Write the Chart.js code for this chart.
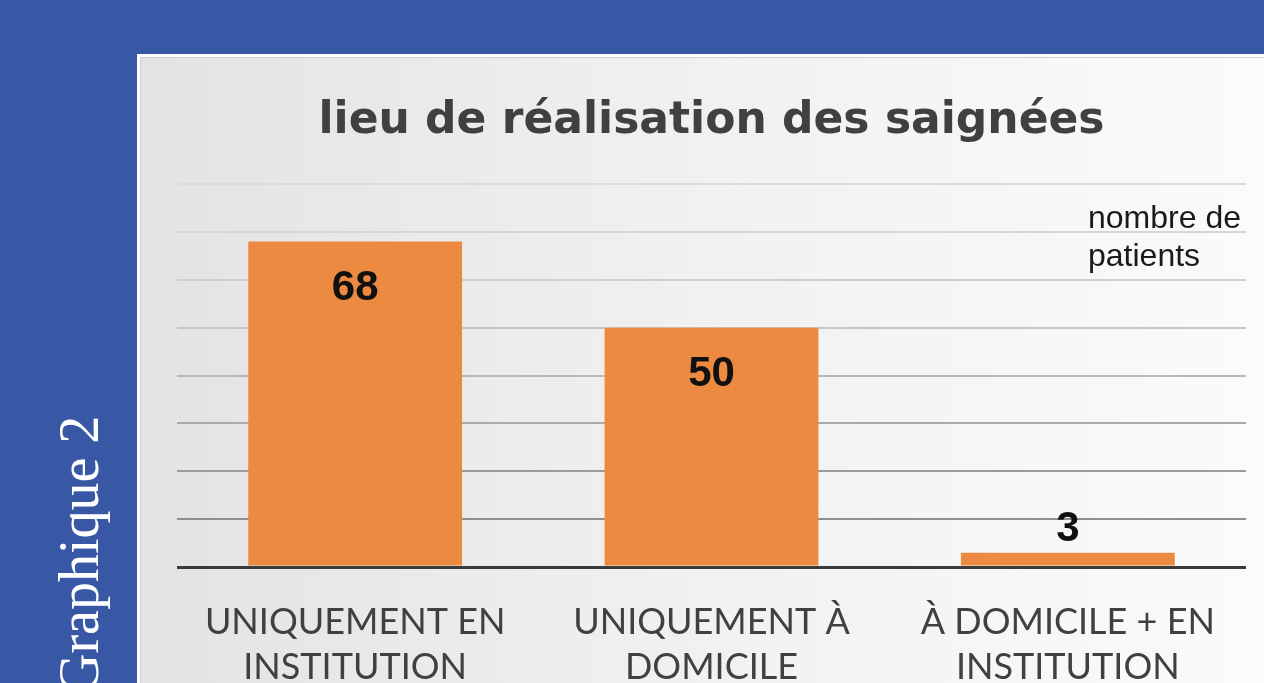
<!DOCTYPE html>
<html>
<head>
<meta charset="utf-8">
<script src="https://cdn.jsdelivr.net/npm/chart.js@4"></script>
<style>
  html, body { margin: 0; padding: 0; }
  body { width: 1264px; height: 683px; background: #3858a5; position: relative; overflow: hidden; }
  #panel {
    position: absolute; left: 137px; top: 54px; width: 1140px; height: 640px;
    box-sizing: border-box; border: 3px solid #ffffff;
    box-shadow: inset 0 0 0 1px #cfcfcf;
    background: linear-gradient(to right, #e3e3e3 0%, #f1f1f1 50%, #fbfbfb 100%);
  }
  #wrap { position: absolute; left: 138px; top: 55px; width: 1126px; height: 628px; }
  #side {
    position: absolute; left: 51px; top: 694px;
    transform-origin: 0 0; transform: rotate(-90deg);
    font-family: "Liberation Serif", "DejaVu Serif", serif; font-size: 56px; line-height: 1;
    color: #ffffff; white-space: nowrap;
  }
</style>
</head>
<body>
<div id="panel"></div>
<div id="side">Graphique 2</div>
<div id="wrap"><canvas id="saigneesChart" width="1126" height="628"></canvas></div>
<script>
// Donnees
var categories = [['UNIQUEMENT EN', 'INSTITUTION'], ['UNIQUEMENT À', 'DOMICILE'], ['À DOMICILE + EN', 'INSTITUTION']];
var patients = [68, 50, 3];
var yTicks = [0, 10, 20, 30, 40, 50, 60, 70, 80];
var titleText = 'lieu de réalisation des saignées';
var unitLabel = ['nombre de', 'patients'];

// couleur des lignes de grille : claires en haut, plus foncees en bas
var gridColors = ['#3a3a3a', '#8f8f8f', '#9c9c9c', '#aaaaaa', '#b8b8b8', '#c6c6c6', '#cfcfcf', '#d6d6d6', '#dcdcdc'];

// etiquettes de valeur + titre d'axe
var labelsPlugin = {
    id: 'labelsPlugin',
    afterDatasetsDraw(chart) {
        var ctx = chart.ctx;
        var meta = chart.getDatasetMeta(0);
        ctx.save();
        ctx.fillStyle = '#111111';
        ctx.font = 'bold 42px "Liberation Sans", Arial, sans-serif';
        ctx.textAlign = 'center';
        ctx.textBaseline = 'middle';
        meta.data.forEach(function (bar, i) {
            var h = bar.base - bar.y;
            var y = h > 60 ? bar.y + 47 : bar.y - 23;
            ctx.fillText(String(patients[i]), bar.x, y);
        });
        ctx.font = '32px "Liberation Sans", Arial, sans-serif';
        ctx.fillStyle = '#1a1a1a';
        ctx.textAlign = 'left';
        var left = chart.chartArea.right - 158;
        ctx.fillText(unitLabel[0], left, chart.chartArea.top + 35);
        ctx.fillText(unitLabel[1], left, chart.chartArea.top + 73);
        ctx.restore();
    }
};

var chart = new Chart(document.getElementById('saigneesChart').getContext('2d'), {
    type: 'bar',
    data: {
        labels: categories,
        datasets: [{
            label: 'nombre de patients',
            data: patients,
            backgroundColor: '#ec8a42',
            borderWidth: 0,
            categoryPercentage: 0.6,
            barPercentage: 1.0
        }]
    },
    options: {
        responsive: false,
        animation: false,
        layout: { padding: { left: 39, right: 18, top: 0, bottom: 0 } },
        plugins: {
            legend: { display: false },
            tooltip: { enabled: false },
            title: {
                display: true,
                text: titleText,
                color: '#404040',
                font: { family: '"DejaVu Sans", sans-serif', size: 44, weight: 'bold', lineHeight: 1.2 },
                padding: { top: 40, bottom: 36.2 }
            }
        },
        scales: {
            x: {
                grid: { display: false, drawTicks: false },
                border: { display: false },
                ticks: {
                    color: '#404040',
                    padding: 33,
                    maxRotation: 0,
                    autoSkip: false,
                    font: { family: 'Lato, "DejaVu Sans", sans-serif', size: 36, lineHeight: 1.25 }
                },
                afterFit(scale) { scale.height = 116; }
            },
            y: {
                min: 0,
                max: 80,
                afterBuildTicks(scale) { scale.ticks = yTicks.map(function (v) { return { value: v }; }); },
                ticks: { display: false },
                border: { display: false },
                grid: {
                    drawTicks: false,
                    color: function (c) { return gridColors[c.index] || '#cccccc'; },
                    lineWidth: function (c) { return c.index === 0 ? 3 : 2; }
                },
                afterFit(scale) { scale.width = 0; }
            }
        }
    },
    plugins: [labelsPlugin]
});
</script>
</body>
</html>
